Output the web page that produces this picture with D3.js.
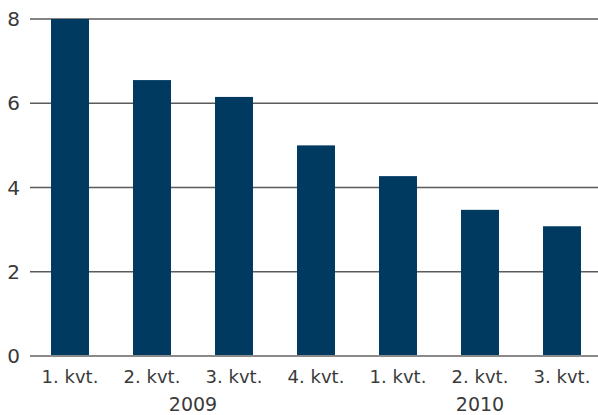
<!DOCTYPE html>
<html lang="da">
<head>
    <meta charset="utf-8">
    <title>Kvartaler</title>
    <style>
        body {
            margin: 0;
            background: #fff;
        }
        text {
            font-family: "DejaVu Sans", sans-serif;
            fill: #3a3a3a;
        }
    </style>
</head>
<body>
<svg class="chart"></svg>
<script src="https://d3js.org/d3.v7.min.js"></script>
<script>

  const quarters = ["1. kvt.", "2. kvt.", "3. kvt.", "4. kvt.", "1. kvt.", "2. kvt.", "3. kvt."];
  const years = ["2009", "2010"];
  const yearOf = [0, 0, 0, 0, 1, 1, 1]; // which year each bar belongs to
  const values = [8.0, 6.55, 6.15, 5.0, 4.27, 3.47, 3.08];
  const yTicks = [0, 2, 4, 6, 8];

  const width = 598;
  const height = 415;

  const svg = d3.select(".chart")
    .attr("width", width)
    .attr("height", height);

  const x = d3.scaleBand()
    .domain(d3.range(values.length))
    .range([29, 603])
    .paddingInner(0.537)
    .paddingOuter(0.2685);

  const y = d3.scaleLinear()
    .domain([0, 8])
    .range([356, 19]);

  // gridlines
  svg.append("g")
    .selectAll("line")
    .data(yTicks.filter(d => d > 0))
    .join("line")
    .attr("x1", 30)
    .attr("x2", width)
    .attr("y1", y)
    .attr("y2", y)
    .attr("stroke", "#5a5a5a")
    .attr("stroke-width", 1.5);

  // bars
  svg.append("g")
    .selectAll("rect")
    .data(values)
    .join("rect")
    .attr("x", (d, i) => x(i))
    .attr("y", d => y(d))
    .attr("width", x.bandwidth())
    .attr("height", d => y(0) - y(d))
    .attr("fill", "#003a61");

  // zero line
  svg.append("line")
    .attr("x1", 30)
    .attr("x2", width)
    .attr("y1", y(0))
    .attr("y2", y(0))
    .attr("stroke", "#8a8a8a")
    .attr("stroke-width", 2);

  // y labels
  svg.append("g")
    .selectAll("text")
    .data(yTicks)
    .join("text")
    .attr("x", 20)
    .attr("y", y)
    .attr("dy", "0.36em")
    .attr("text-anchor", "end")
    .style("font-size", "20px")
    .text(d => d);

  // quarter labels
  svg.append("g")
    .selectAll("text")
    .data(quarters)
    .join("text")
    .attr("x", (d, i) => x(i) + x.bandwidth() / 2)
    .attr("y", 383)
    .attr("text-anchor", "middle")
    .style("font-size", "18px")
    .text(d => d);

  // year labels, centred under their quarters
  svg.append("g")
    .selectAll("text")
    .data(years)
    .join("text")
    .attr("x", (d, yi) => {
      const idx = d3.range(values.length).filter(i => yearOf[i] === yi);
      return (x(idx[0]) + x(idx[idx.length - 1]) + x.bandwidth()) / 2;
    })
    .attr("y", 411)
    .attr("text-anchor", "middle")
    .style("font-size", "19px")
    .text(d => d);

</script>
</body>
</html>
